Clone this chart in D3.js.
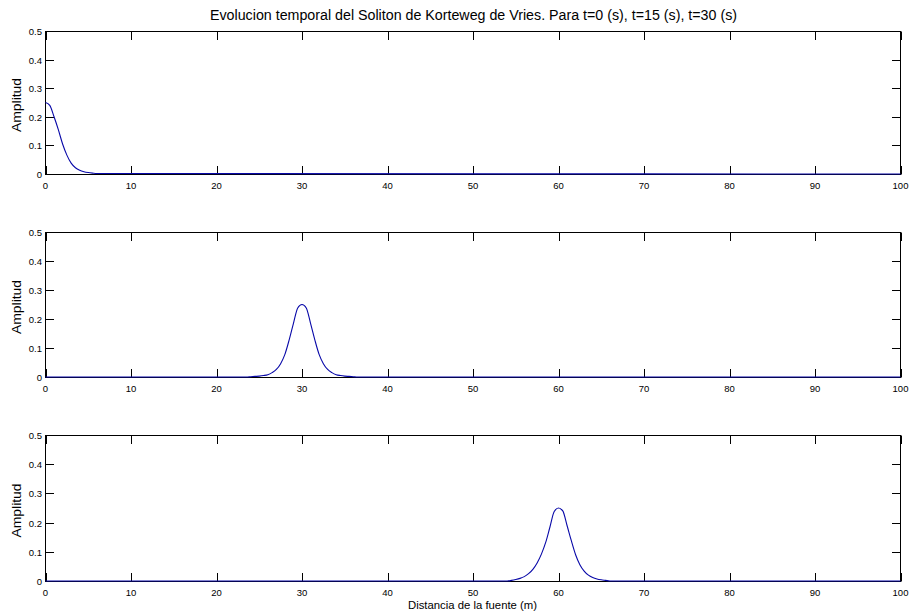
<!DOCTYPE html>
<html>
  <head>
    <meta charset="utf-8">
    <title>Soliton de Korteweg de Vries</title>
    <script src="https://cdn.jsdelivr.net/npm/d3@7"></script>
    <style>
      body { margin: 0; background: #fff; }
      text { font-family: "Liberation Sans", Arial, sans-serif; fill: #000; }
    </style>
  </head>
  <body>
  <script>

    // Amplitude for each time (x in m, amplitude)
    var xT0  = [0, 0.5, 1, 1.5, 2, 2.5, 3, 3.5, 4, 4.5, 5, 5.5, 6, 100];
    var yT0  = [0.25, 0.24, 0.20, 0.155, 0.105, 0.066, 0.038, 0.022, 0.013, 0.008, 0.005, 0.003, 0.0015, 0];

    var xT15 = [0, 23.5, 24, 24.5, 25, 25.5, 26, 26.5, 27, 27.5, 28, 28.5, 29, 29.5, 30,
                30.5, 31, 31.5, 32, 32.5, 33, 33.5, 34, 34.5, 35, 35.5, 36, 36.5, 100];
    var yT15 = [0, 0, 0.001, 0.002, 0.003, 0.005, 0.008, 0.015, 0.026, 0.046, 0.078, 0.128, 0.185, 0.238, 0.25,
                0.238, 0.185, 0.128, 0.078, 0.046, 0.026, 0.015, 0.008, 0.005, 0.003, 0.002, 0.001, 0, 0];

    var xT30 = [0, 54, 54.5, 55, 55.5, 56, 56.5, 57, 57.5, 58, 58.5, 59, 59.5, 60,
                60.5, 61, 61.5, 62, 62.5, 63, 63.5, 64, 64.5, 65, 65.5, 66, 100];
    var yT30 = [0, 0, 0.002, 0.005, 0.009, 0.015, 0.025, 0.04, 0.062, 0.092, 0.132, 0.185, 0.238, 0.25,
                0.24, 0.19, 0.138, 0.09, 0.056, 0.034, 0.02, 0.012, 0.007, 0.004, 0.002, 0, 0];

    var seriesX = [xT0, xT15, xT30];
    var seriesY = [yT0, yT15, yT30];

    var xTicks = [0, 10, 20, 30, 40, 50, 60, 70, 80, 90, 100];
    var yTicks = [0, 0.1, 0.2, 0.3, 0.4, 0.5];

    var titleText = "Evolucion temporal del Soliton de Korteweg de Vries. Para t=0 (s), t=15 (s), t=30 (s)";
    var yLabelText = "Amplitud";
    var xLabelText = "Distancia de la fuente (m)";

    // Layout of the three panels (pixels)
    var width = 911, height = 614;
    var left = 45.5, right = 900.5;
    var panels = [[31.5, 174.5], [232.5, 377.5], [435.5, 581.5]];
    var tickLen = 8.5;
    var lineColor = "#0808a8";

    var svg = d3.select("body").append("svg")
                .attr("width", width)
                .attr("height", height);

    var x = d3.scaleLinear().domain([0, 100]).range([left, right]);

    panels.forEach(function (p, k) {
      var y = d3.scaleLinear().domain([0, 0.5]).range([p[1], p[0]]);
      var g = svg.append("g");

      // box
      g.append("rect")
        .attr("x", left).attr("y", p[0])
        .attr("width", right - left).attr("height", p[1] - p[0])
        .attr("fill", "none").attr("stroke", "#000").attr("stroke-width", 1);

      // x ticks, inward from bottom and top
      g.selectAll(".xb").data(xTicks).enter().append("line")
        .attr("x1", function (d) { return Math.round(x(d)) + 0.5; })
        .attr("x2", function (d) { return Math.round(x(d)) + 0.5; })
        .attr("y1", p[1]).attr("y2", p[1] - tickLen)
        .attr("stroke", "#000");
      g.selectAll(".xt").data(xTicks).enter().append("line")
        .attr("x1", function (d) { return Math.round(x(d)) + 0.5; })
        .attr("x2", function (d) { return Math.round(x(d)) + 0.5; })
        .attr("y1", p[0]).attr("y2", p[0] + tickLen)
        .attr("stroke", "#000");

      // y ticks, inward from left and right
      g.selectAll(".yl").data(yTicks).enter().append("line")
        .attr("x1", left).attr("x2", left + tickLen)
        .attr("y1", function (d) { return Math.round(y(d) - 0.5) + 0.5; })
        .attr("y2", function (d) { return Math.round(y(d) - 0.5) + 0.5; })
        .attr("stroke", "#000");
      g.selectAll(".yr").data(yTicks).enter().append("line")
        .attr("x1", right).attr("x2", right - tickLen)
        .attr("y1", function (d) { return Math.round(y(d) - 0.5) + 0.5; })
        .attr("y2", function (d) { return Math.round(y(d) - 0.5) + 0.5; })
        .attr("stroke", "#000");

      // tick labels
      g.selectAll(".xlab").data(xTicks).enter().append("text")
        .attr("x", function (d) { return x(d); })
        .attr("y", p[1] + 14)
        .attr("text-anchor", "middle")
        .style("font-size", "9.5px")
        .text(function (d) { return d; });
      g.selectAll(".ylab").data(yTicks).enter().append("text")
        .attr("x", 42)
        .attr("y", function (d) { return y(d) + 3.5; })
        .attr("text-anchor", "end")
        .style("font-size", "9.5px")
        .text(function (d) { return d === 0 ? "0" : d3.format(".1f")(d); });

      // y label
      var cy = (p[0] + p[1]) / 2 + 2;
      g.append("text")
        .attr("transform", "translate(21," + cy + ") rotate(-90)")
        .attr("text-anchor", "middle")
        .attr("textLength", 54)
        .attr("lengthAdjust", "spacingAndGlyphs")
        .style("font-size", "12px")
        .text(yLabelText);

      // the soliton
      var pts = seriesX[k].map(function (v, i) { return [v, seriesY[k][i]]; });
      var line = d3.line()
        .curve(d3.curveMonotoneX)
        .x(function (d) { return x(d[0]); })
        .y(function (d) { return y(d[1]) - 0.5; });
      g.append("path")
        .datum(pts)
        .attr("d", line)
        .attr("fill", "none")
        .attr("stroke", lineColor)
        .attr("stroke-width", 1.1);
    });

    // title
    svg.append("text")
      .attr("x", 473.5).attr("y", 20)
      .attr("text-anchor", "middle")
      .attr("textLength", 527)
      .attr("lengthAdjust", "spacingAndGlyphs")
      .style("font-size", "14px")
      .text(titleText);

    // x label
    svg.append("text")
      .attr("x", 472.5).attr("y", 609)
      .attr("text-anchor", "middle")
      .attr("textLength", 129)
      .attr("lengthAdjust", "spacingAndGlyphs")
      .style("font-size", "11px")
      .text(xLabelText);

  </script>
  </body>
</html>
